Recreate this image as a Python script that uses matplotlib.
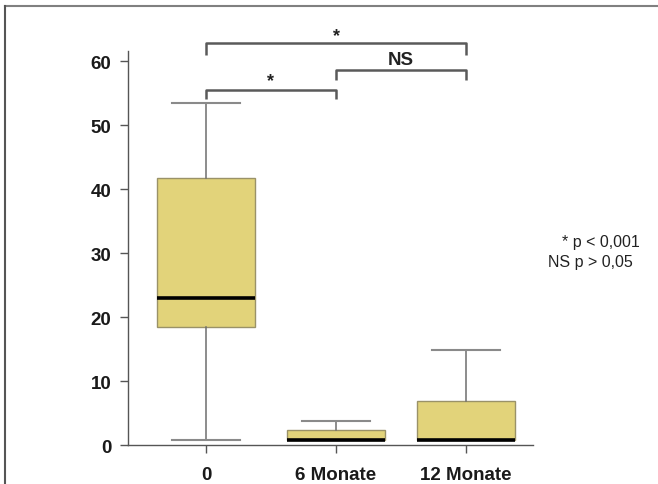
import matplotlib.pyplot as plt
from matplotlib.lines import Line2D

categories = ["0", "6 Monate", "12 Monate"]
whislo = [0.8, 0.8, 0.8]
q1 = [18.5, 0.8, 0.8]
med = [23.0, 0.8, 0.8]
q3 = [41.8, 2.3, 6.8]
whishi = [53.5, 3.7, 14.8]
yticks = [0, 10, 20, 30, 40, 50, 60]

box_color = "#e2d37a"
edge_color = "#9a9268"
line_color = "#6e6e6e"

plt.rcParams["font.family"] = ["Liberation Sans", "DejaVu Sans"]

fig = plt.figure(figsize=(6.58, 4.85), dpi=100)
ax = fig.add_axes([0.1945, 0.0804, 0.6155, 0.8128])

stats = []
for i, name in enumerate(categories):
    stats.append({"label": name, "whislo": whislo[i], "q1": q1[i], "med": med[i],
                  "q3": q3[i], "whishi": whishi[i], "fliers": []})

ax.bxp(stats, positions=[1, 2, 3], widths=0.75, patch_artist=True,
       showfliers=False, capwidths=0.52,
       boxprops=dict(facecolor=box_color, edgecolor=edge_color, linewidth=1),
       whiskerprops=dict(color=line_color, linewidth=1.1),
       capprops=dict(color="#8a8a8a", linewidth=1.5),
       medianprops=dict(color="black", linewidth=2.6, solid_capstyle="butt"))

ax.set_xlim(0.4, 3.515)
ax.set_ylim(0, 61.6)
ax.set_yticks(yticks)
ax.set_xticks([1, 2, 3])
ax.set_xticklabels(categories)
for lab in ax.get_xticklabels() + ax.get_yticklabels():
    lab.set_fontweight("bold")
    lab.set_fontsize(13.5)
    lab.set_color("#1a1a1a")
ax.tick_params(axis="both", direction="out", length=6, width=1, color="#555555")
ax.tick_params(axis="y", pad=6)
ax.tick_params(axis="x", pad=9)
for side in ["top", "right"]:
    ax.spines[side].set_visible(False)
for side in ["left", "bottom"]:
    ax.spines[side].set_color("#555555")
    ax.spines[side].set_linewidth(1)


def bracket(x1, x2, y, drop, label, ty, size):
    ax.plot([x1, x1, x2, x2], [y - drop, y, y, y - drop], color="#5a5a5a",
            linewidth=1.8, clip_on=False, solid_capstyle="butt")
    ax.text((x1 + x2) / 2, ty, label, ha="center", va="center", fontsize=size,
            fontweight="bold", color="#222222", clip_on=False)


bracket(1, 3, 62.8, 1.8, "*", 64.0, 13)
bracket(2, 3, 58.6, 1.6, "NS", 60.2, 13.5)
bracket(1, 2, 55.5, 1.5, "*", 56.9, 13)

fig.text(0.973, 0.501, "* p < 0,001", ha="right", va="center", fontsize=11.5, color="#222222")
fig.text(0.962, 0.459, "NS p > 0,05", ha="right", va="center", fontsize=11.5, color="#222222")

# outer frame lines
fig.add_artist(Line2D([5 / 658, 1], [1 - 7 / 485, 1 - 7 / 485], color="#808080", linewidth=1.5))
fig.add_artist(Line2D([5 / 658, 5 / 658], [0, 1 - 7 / 485], color="#555555", linewidth=1.5))

fig.savefig("out.png", dpi=100)
